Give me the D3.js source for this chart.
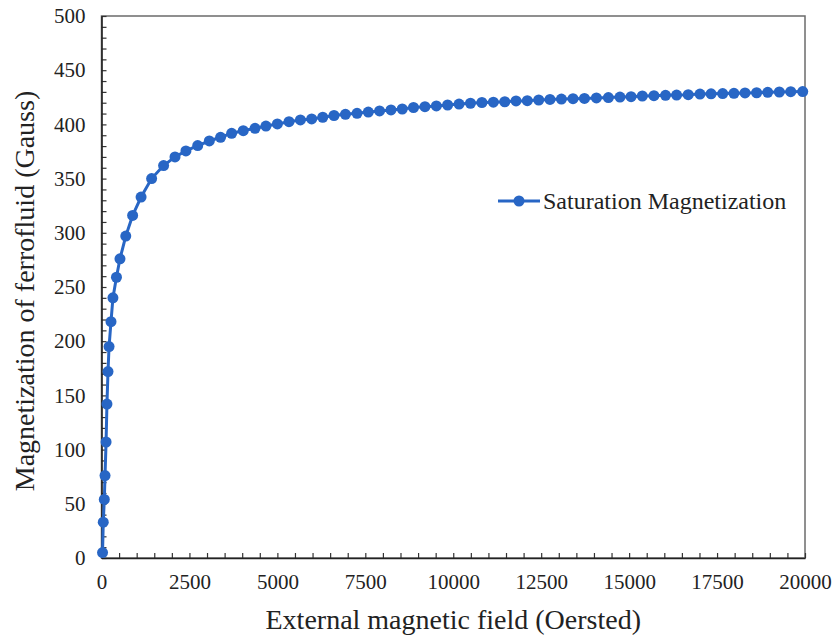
<!DOCTYPE html>
<html>
<head>
<meta charset="utf-8">
<script src="https://cdn.jsdelivr.net/npm/d3@7"></script>
<style>
  body { margin: 0; background: #fff; }
  svg { display: block; }
  svg text { font-family: "Liberation Serif", "Times New Roman", Times, Tinos, "DejaVu Serif", serif !important; }
</style>
</head>
<body>
<svg id="chart" width="832" height="637"></svg>
<script>
// External magnetic field (Oe)
const fieldOe = [
  30, 50, 80, 100, 130, 155, 185, 215, 270, 325,
  425, 525, 690, 885, 1125, 1425, 1765, 2090, 2400, 2735,
  3065, 3385, 3700, 4030, 4365, 4675, 5000, 5330, 5655, 5975,
  6290, 6610, 6935, 7265, 7585, 7905, 8230, 8550, 8870, 9195,
  9520, 9840, 10165, 10490, 10815, 11140, 11465, 11785, 12105, 12430,
  12750, 13075, 13405, 13730, 14070, 14410, 14740, 15055, 15375, 15705,
  16035, 16350, 16680, 17015, 17330, 17660, 17980, 18295, 18625, 18940,
  19270, 19595, 19935
];
// Magnetization (Gauss)
const magnetization = [
  5, 33, 54, 76, 107, 142, 172, 195, 218, 240,
  259, 276, 297, 316, 333, 350, 362, 370, 375.5, 380.5,
  384.7, 388.1, 391.8, 394.2, 396.4, 398.5, 400.4, 402.5, 404.1, 405,
  406.6, 408.2, 409.3, 410.2, 411.4, 412.4, 413.3, 414.2, 415.6, 416.3,
  417, 417.9, 418.8, 419.5, 420.2, 420.5, 420.9, 421.6, 421.9, 422.5,
  423, 423.4, 423.7, 424, 424.4, 424.8, 425.2, 425.6, 426.2, 426.5,
  426.8, 427.1, 427.4, 428, 428.2, 428.4, 428.7, 429, 429.2, 429.6,
  429.9, 430.2, 430.3
];
const xTicks = [0, 2500, 5000, 7500, 10000, 12500, 15000, 17500, 20000];
const yTicks = [0, 50, 100, 150, 200, 250, 300, 350, 400, 450, 500];
const seriesName = "Saturation Magnetization";

const points = fieldOe.map((f, i) => ({ f, m: magnetization[i] }));
const BLUE = "#2866c5";

const svg = d3.select("#chart");
const margin = { top: 16, right: 27, bottom: 79, left: 101.5 };
const width = +svg.attr("width");
const height = +svg.attr("height");
const innerWidth = width - margin.left - margin.right;
const innerHeight = height - margin.top - margin.bottom;

const x = d3.scaleLinear().domain([0, 20000]).range([0, innerWidth]);
const y = d3.scaleLinear().domain([0, 500]).range([innerHeight, 0]);

const g = svg.append("g")
  .attr("transform", `translate(${margin.left},${margin.top})`);

// frame
g.append("rect")
  .attr("width", innerWidth)
  .attr("height", innerHeight)
  .attr("fill", "none")
  .attr("stroke", "#6b6b6b")
  .attr("stroke-width", 1.5);

// minor ticks (inside)
const xMinor = d3.range(0, 20001, 500);
const yMinor = d3.range(0, 501, 10);

g.append("g")
  .attr("transform", `translate(0,${innerHeight})`)
  .call(d3.axisTop(x).tickValues(xMinor).tickSize(5).tickFormat(""))
  .call(a => a.select(".domain").remove())
  .selectAll("line").attr("stroke", "#333").attr("stroke-width", 1.2);

g.append("g")
  .call(d3.axisRight(y).tickValues(yMinor).tickSize(5).tickFormat(""))
  .call(a => a.select(".domain").remove())
  .selectAll("line").attr("stroke", "#333").attr("stroke-width", 1.2);

// X axis labels
const xAxis = g.append("g")
  .attr("transform", `translate(0,${innerHeight})`)
  .call(d3.axisBottom(x).tickValues(xTicks).tickSize(0).tickPadding(16).tickFormat(d3.format("d")));
xAxis.select(".domain").attr("stroke", "#222").attr("stroke-width", 1.6);
xAxis.selectAll("text")
  .attr("font-size", 21)
  .attr("fill", "#222");

// Y axis labels
const yAxis = g.append("g")
  .call(d3.axisLeft(y).tickValues(yTicks).tickSize(0).tickPadding(16));
yAxis.select(".domain").attr("stroke", "#222").attr("stroke-width", 1.6);
yAxis.selectAll("text")
  .attr("font-size", 21)
  .attr("fill", "#222");

// line + markers
const line = d3.line()
  .x(d => x(d.f))
  .y(d => y(d.m));

g.append("path")
  .datum(points)
  .attr("fill", "none")
  .attr("stroke", BLUE)
  .attr("stroke-width", 3)
  .attr("d", line);

g.selectAll(".pt")
  .data(points)
  .enter().append("circle")
  .attr("class", "pt")
  .attr("cx", d => x(d.f))
  .attr("cy", d => y(d.m))
  .attr("r", 5.5)
  .attr("fill", BLUE);

// legend
const legend = svg.append("g")
  .attr("transform", "translate(498,201)");
legend.append("line")
  .attr("x1", 0).attr("x2", 42)
  .attr("y1", 0).attr("y2", 0)
  .attr("stroke", BLUE)
  .attr("stroke-width", 3);
legend.append("circle")
  .attr("cx", 21).attr("cy", 0).attr("r", 5.5)
  .attr("fill", BLUE);
legend.append("text")
  .attr("x", 45)
  .attr("y", 8)
  .attr("font-size", 24)
  .attr("fill", "#222")
  .text(seriesName);

// axis titles
svg.append("text")
  .attr("x", margin.left + innerWidth / 2)
  .attr("y", 629)
  .attr("text-anchor", "middle")
  .attr("font-size", 28)
  .attr("fill", "#222")
  .text("External magnetic field (Oersted)");

svg.append("text")
  .attr("transform", "rotate(-90)")
  .attr("x", -291)
  .attr("y", 34)
  .attr("text-anchor", "middle")
  .attr("font-size", 28)
  .attr("fill", "#222")
  .text("Magnetization of ferrofluid (Gauss)");
</script>
</body>
</html>
